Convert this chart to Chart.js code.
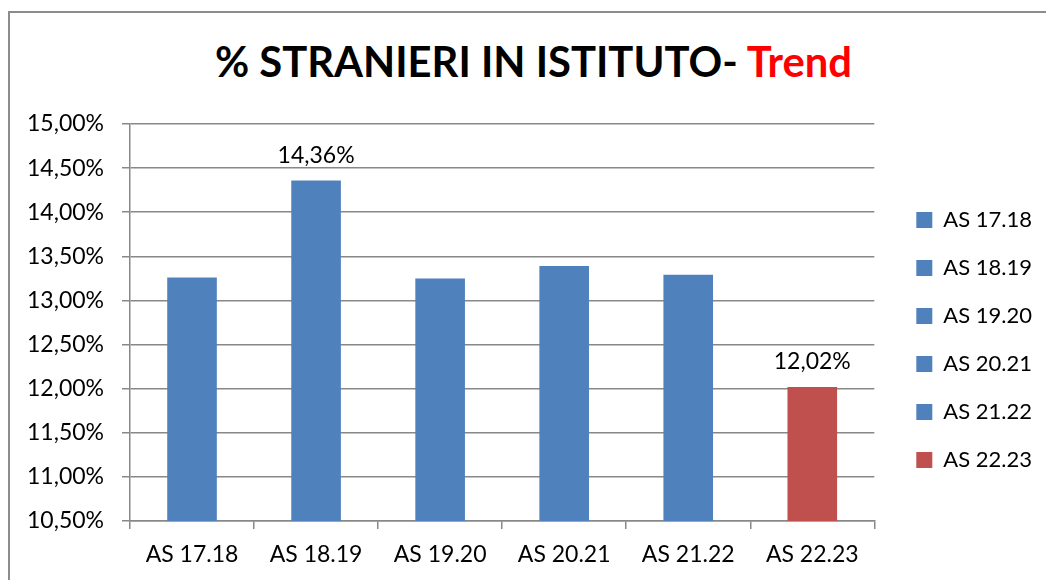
<!DOCTYPE html>
<html>
<head>
<meta charset="utf-8">
<script src="https://cdn.jsdelivr.net/npm/chart.js@4.4.1/dist/chart.umd.min.js"></script>
<style>
  html, body { margin: 0; padding: 0; background: #ffffff; }
  body { width: 1046px; height: 580px; overflow: hidden; position: relative; }
  #frame { position: absolute; left: 8px; top: 11px; width: 1100px; height: 620px;
           border-left: 2px solid #8c8c8c; border-top: 2px solid #8c8c8c; box-sizing: border-box; }
  #titleWrap { position: absolute; left: 0; top: 40px; width: 1067px; text-align: center;
               font-family: Lato, "Open Sans", sans-serif; font-weight: bold; font-size: 42px;
               line-height: 42px; white-space: nowrap; }
  #titleText { display: inline-block; transform-origin: 50% 50%; color: #000; }
  #titleText .red { color: #ff0000; }
  #chartBox { position: absolute; left: 0; top: 0; width: 1046px; height: 580px; }
</style>
</head>
<body>
<div id="frame"></div>
<div id="titleWrap"><span id="titleText">% STRANIERI IN ISTITUTO- <span class="red">Trend</span></span></div>
<div id="chartBox"><canvas id="c" width="1046" height="580"></canvas></div>
<script>
// ---- data ----
const categories = ["AS 17.18", "AS 18.19", "AS 19.20", "AS 20.21", "AS 21.22", "AS 22.23"];
const percentValues = [13.26, 14.36, 13.25, 13.39, 13.29, 12.02];
const labeledIndexes = [1, 5];
const yTickMin = 10.5;
const yTickMax = 15.0;
const yTickStep = 0.5;

// ---- styling ----
const blue = "#4F81BD";
const red = "#C0504D";
const barColors = categories.map((c, i) => (i === categories.length - 1 ? red : blue));
const gridColor = "#888888";
const fontFamily = "Lato, 'Open Sans', sans-serif";

function fmtPct(v) {
  return Number(v).toFixed(2).replace(".", ",") + "%";
}

const valueLabels = {
  id: "valueLabels",
  afterDatasetsDraw(chart) {
    const ctx = chart.ctx;
    const meta = chart.getDatasetMeta(0);
    ctx.save();
    ctx.font = "23px " + fontFamily;
    ctx.fillStyle = "#000";
    ctx.textAlign = "center";
    ctx.textBaseline = "middle";
    labeledIndexes.forEach(i => {
      const bar = meta.data[i];
      ctx.fillText(fmtPct(percentValues[i]), bar.x, bar.y - 25);
    });
    ctx.restore();
  }
};

new Chart(document.getElementById("c"), {
  type: "bar",
  data: {
    labels: categories,
    datasets: [{
      label: "% stranieri",
      data: percentValues,
      backgroundColor: barColors,
      borderWidth: 0,
      categoryPercentage: 1.0,
      barPercentage: 0.4
    }]
  },
  options: {
    responsive: false,
    animation: false,
    layout: { padding: { top: 124, left: 0, right: 4, bottom: 0 } },
    plugins: {
      title: { display: false },
      tooltip: { enabled: false },
      legend: {
        display: true,
        position: "right",
        align: "start",
        title: { display: true, text: "", font: { size: 10 }, padding: { top: 47, bottom: 0 } },
        labels: {
          boxWidth: 16,
          boxHeight: 16,
          padding: 26,
          color: "#000",
          font: { family: fontFamily, size: 22 },
          generateLabels: (chart) => categories.map((c, i) => ({
            text: c,
            fillStyle: barColors[i],
            strokeStyle: barColors[i],
            fontColor: "#000",
            lineWidth: 0,
            hidden: false,
            index: i,
            datasetIndex: 0
          }))
        }
      }
    },
    scales: {
      x: {
        type: "category",
        offset: true,
        grid: { display: true, drawOnChartArea: false, drawTicks: true, tickLength: 8, color: gridColor, lineWidth: 1.5, offset: true },
        border: { display: true, color: gridColor, width: 1.5 },
        ticks: { color: "#000", font: { family: fontFamily, size: 23 }, padding: 12, maxRotation: 0, autoSkip: false },
        afterFit: (s) => { s.height = 59; }
      },
      y: {
        type: "linear",
        position: "left",
        min: yTickMin,
        max: yTickMax,
        grid: { color: gridColor, lineWidth: 1.5, drawTicks: true, tickLength: 8 },
        border: { display: true, color: gridColor, width: 1.5 },
        ticks: {
          stepSize: yTickStep,
          color: "#000",
          padding: 18,
          font: { family: fontFamily, size: 23 },
          callback: (v) => fmtPct(v)
        },
        afterFit: (s) => { s.width = 130; }
      },
      yRightSpacer: {
        type: "linear",
        position: "right",
        display: true,
        grid: { display: false, drawTicks: false },
        border: { display: false },
        ticks: { display: false },
        afterFit: (s) => { s.width = 16; }
      }
    }
  },
  plugins: [valueLabels]
});

// fit title width to reference
(function fitTitle() {
  const t = document.getElementById("titleText");
  const w = t.getBoundingClientRect().width;
  if (w > 0) t.style.transform = "scaleX(" + (637 / w) + ")";
})();
</script>
</body>
</html>
